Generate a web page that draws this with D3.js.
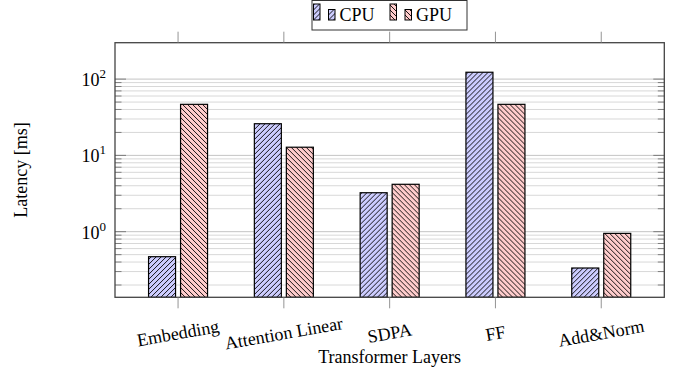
<!DOCTYPE html>
<html>
<head>
<meta charset="utf-8">
<script src="https://cdn.jsdelivr.net/npm/d3@7"></script>
<style>
  body { margin: 0; background: #fff; }
  svg text { font-family: 'Liberation Serif', 'Times New Roman', Times, 'DejaVu Serif', serif; fill: #000; }
</style>
</head>
<body>
<svg id="chart" width="678" height="372" font-family="Liberation Serif, Times New Roman, serif"></svg>
<script>
// values (ms, log axis)
const categories = ['Embedding', 'Attention Linear', 'SDPA', 'FF', 'Add&Norm'];
const cpuLatency = [0.47, 26, 3.24, 123, 0.334];
const gpuLatency = [46.7, 12.8, 4.18, 46.7, 0.95];
const seriesNames = ['CPU', 'GPU'];
const majorTicks = [1, 10, 100];

const width = 678;
const height = 372;
const paddingLeft = 115;
const paddingRight = 13.7;
const paddingTop = 42.7;
const paddingBottom = 74.7;
const barWidth = 27;
const barOffset = 16;

const svg = d3.select('#chart');

function addPattern(defs, id, fill, d) {
  const p = defs.append('pattern')
    .attr('id', id)
    .attr('patternUnits', 'userSpaceOnUse')
    .attr('width', 5)
    .attr('height', 5);
  p.append('rect').attr('width', 5).attr('height', 5).attr('fill', fill);
  p.append('path')
    .attr('d', d)
    .attr('stroke', '#000')
    .attr('stroke-width', 0.9)
    .attr('fill', 'none');
}

const defs = svg.append('defs');
addPattern(defs, 'neLines', '#ccccff', 'M0,5L5,0M-1,1L1,-1M4,6L6,4');
addPattern(defs, 'nwLines', '#ffcccc', 'M0,0L5,5M-1,4L1,6M4,-1L6,1');
const fills = ['url(#neLines)', 'url(#nwLines)'];

const x0 = paddingLeft;
const x1 = width - paddingRight;
const y0 = paddingTop;
const y1 = height - paddingBottom;

const xScale = d3.scalePoint()
  .domain(categories)
  .range([x0, x1])
  .padding(0.596);

const yScale = d3.scaleLog()
  .domain([0.138, 300])
  .range([y1, y0]);

// grid
const gridTicks = yScale.ticks().filter((t) => t >= 0.2 && t <= 100);
const isMajor = (t) => majorTicks.some((m) => Math.abs(m - t) < 1e-9);

svg.append('g')
  .attr('class', 'grid')
  .selectAll('line')
  .data(gridTicks)
  .join('line')
  .attr('x1', x0)
  .attr('x2', x1)
  .attr('y1', (d) => yScale(d))
  .attr('y2', (d) => yScale(d))
  .attr('stroke', (d) => (isMajor(d) ? '#c4c4c4' : '#d8d8d8'))
  .attr('stroke-width', 1);

// small inward ticks on left and right
const tickG = svg.append('g').attr('class', 'yTicks');
gridTicks.forEach((t) => {
  const len = isMajor(t) ? 11 : 6.5;
  const yy = yScale(t);
  tickG.append('line')
    .attr('x1', x0).attr('x2', x0 + len)
    .attr('y1', yy).attr('y2', yy)
    .attr('stroke', '#666').attr('stroke-width', 0.8);
  tickG.append('line')
    .attr('x1', x1 - len).attr('x2', x1)
    .attr('y1', yy).attr('y2', yy)
    .attr('stroke', '#666').attr('stroke-width', 0.8);
});

// bars
const rows = categories.map((c, i) => ({ cat: c, vals: [cpuLatency[i], gpuLatency[i]] }));
const groups = svg.append('g')
  .attr('class', 'bars')
  .selectAll('g')
  .data(rows)
  .join('g')
  .attr('transform', (d) => `translate(${xScale(d.cat)},0)`);

groups.selectAll('rect')
  .data((d) => d.vals.map((v, s) => ({ v, s })))
  .join('rect')
  .attr('x', (d) => (d.s === 0 ? -barOffset : barOffset) - barWidth / 2)
  .attr('width', barWidth)
  .attr('y', (d) => yScale(d.v))
  .attr('height', (d) => y1 - yScale(d.v))
  .attr('fill', (d) => fills[d.s])
  .attr('stroke', '#000')
  .attr('stroke-width', 1.2);

// axis frame
svg.append('rect')
  .attr('x', x0)
  .attr('y', y0)
  .attr('width', x1 - x0)
  .attr('height', y1 - y0)
  .attr('fill', 'none')
  .attr('stroke', '#444')
  .attr('stroke-width', 1.3);

// x ticks outside top and bottom
const xTickG = svg.append('g').attr('class', 'xTicks');
categories.forEach((c) => {
  const xx = xScale(c);
  xTickG.append('line')
    .attr('x1', xx).attr('x2', xx)
    .attr('y1', y0 - 11).attr('y2', y0)
    .attr('stroke', '#888').attr('stroke-width', 0.9);
  xTickG.append('line')
    .attr('x1', xx).attr('x2', xx)
    .attr('y1', y1).attr('y2', y1 + 11)
    .attr('stroke', '#888').attr('stroke-width', 0.9);
});

// x tick labels, slightly rotated
svg.append('g')
  .attr('class', 'xLabels')
  .selectAll('text')
  .data(categories)
  .join('text')
  .attr('transform', (d) => `translate(${xScale(d)},${y1 + 36}) rotate(-10)`)
  .attr('text-anchor', 'middle')
  .attr('dominant-baseline', 'central')
  .attr('font-size', 18)
  .text((d) => d);

// y tick labels 10^n
const yLab = svg.append('g')
  .attr('class', 'yLabels')
  .selectAll('text')
  .data(majorTicks)
  .join('text')
  .attr('x', x0 - 9)
  .attr('y', (d) => yScale(d) + 7)
  .attr('text-anchor', 'end')
  .attr('font-size', 18);
yLab.append('tspan').text('10');
yLab.append('tspan')
  .attr('dy', -8)
  .attr('font-size', 13)
  .text((d) => Math.round(Math.log10(d)));

// axis titles
svg.append('text')
  .attr('x', (x0 + x1) / 2)
  .attr('y', 363)
  .attr('text-anchor', 'middle')
  .attr('font-size', 18)
  .text('Transformer Layers');

svg.append('text')
  .attr('transform', `translate(27,${(y0 + y1) / 2}) rotate(-90)`)
  .attr('text-anchor', 'middle')
  .attr('font-size', 18)
  .text('Latency [ms]');

// legend
const legend = svg.append('g').attr('class', 'legend').attr('transform', 'translate(312,0)');
legend.append('rect')
  .attr('x', 0).attr('y', 0.5)
  .attr('width', 155).attr('height', 29.5)
  .attr('fill', '#fff')
  .attr('stroke', '#333')
  .attr('stroke-width', 1);

const itemX = [1.5, 78];
seriesNames.forEach((name, s) => {
  const g = legend.append('g').attr('transform', `translate(${itemX[s]},0)`);
  g.append('rect')
    .attr('x', 0).attr('y', 4)
    .attr('width', 6.5).attr('height', 16)
    .attr('fill', fills[s]).attr('stroke', '#000').attr('stroke-width', 1);
  g.append('rect')
    .attr('x', 15).attr('y', 9.5)
    .attr('width', 6.5).attr('height', 10.5)
    .attr('fill', fills[s]).attr('stroke', '#000').attr('stroke-width', 1);
  g.append('text')
    .attr('x', 26)
    .attr('y', 21)
    .attr('font-size', 18)
    .text(name);
});
</script>
</body>
</html>
